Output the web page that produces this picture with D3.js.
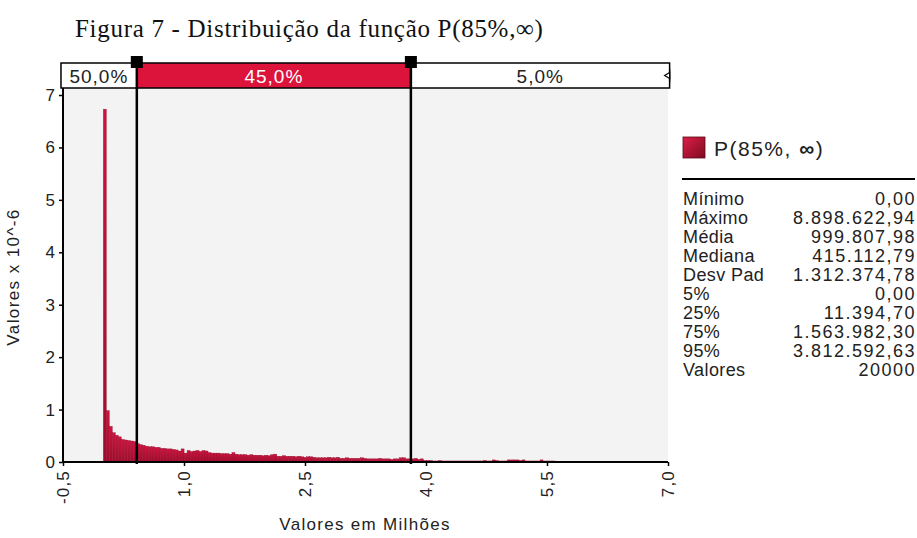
<!DOCTYPE html>
<html>
<head>
<meta charset="utf-8">
<script src="https://cdn.jsdelivr.net/npm/d3@7"></script>
<style>
  body { margin: 0; background: #fff; }
  text { font-family: "Liberation Sans", Arial, sans-serif; }
</style>
</head>
<body>
<div id="vis-svg"></div>
<script>
var width = 917;
var height = 538;

// histogram bin width (millions) and bar heights (values x 10^-6), bins from 0
var binWidth = 0.037078;
var binValues = [
  6.73, 0.98, 0.68, 0.56, 0.51, 0.48, 0.43, 0.42, 0.41, 0.40,
  0.39, 0.35, 0.33, 0.32, 0.30, 0.29, 0.29, 0.28, 0.28, 0.26,
  0.26, 0.25, 0.25, 0.24, 0.23, 0.21, 0.25, 0.17, 0.22, 0.20,
  0.21, 0.22, 0.20, 0.22, 0.21, 0.18, 0.17, 0.17, 0.17, 0.16,
  0.16, 0.16, 0.15, 0.18, 0.15, 0.14, 0.14, 0.14, 0.13, 0.14,
  0.13, 0.13, 0.13, 0.12, 0.13, 0.12, 0.14, 0.15, 0.11, 0.11,
  0.12, 0.11, 0.11, 0.11, 0.10, 0.11, 0.10, 0.09, 0.10, 0.10,
  0.09, 0.08, 0.08, 0.08, 0.08, 0.09, 0.08, 0.08, 0.09, 0.07,
  0.07, 0.08, 0.07, 0.07, 0.07, 0.07, 0.08, 0.07, 0.06, 0.06,
  0.06, 0.06, 0.07, 0.06, 0.06, 0.06, 0.05, 0.06, 0.06, 0.08,
  0.08, 0.06, 0.06, 0.06, 0.07, 0.05, 0.06, 0.03, 0.03, 0.03,
  0.02, 0.02, 0.03, 0.02, 0.02, 0.02, 0.02, 0.02, 0.02, 0.02,
  0.02, 0.02, 0.02, 0.02, 0.02, 0.02, 0.02, 0.03, 0.02, 0.02,
  0.04, 0.03, 0.02, 0.02, 0.02, 0.04, 0.04, 0.04, 0.04, 0.03,
  0.04, 0.02, 0.02, 0.02, 0.02, 0.02, 0.04, 0.02, 0.02, 0.02,
  0.02, 0.01, 0.01, 0.01, 0.01, 0.01, 0.01, 0.01, 0.01, 0.01,
  0.01, 0.01, 0.01, 0.01, 0.01, 0.01, 0.01, 0.01, 0.01, 0.01,
  0.01, 0.01, 0.01, 0.01, 0.01, 0.01, 0.01, 0.01, 0.01, 0.01,
  0.01, 0.01, 0.01, 0.01, 0.01, 0.01, 0.01, 0.01
];

var xTicks = [-0.5, 1.0, 2.5, 4.0, 5.5, 7.0];
var yTicks = [0, 1, 2, 3, 4, 5, 6, 7];

// delimiters (millions) and band percentages
var delimiters = [0.415113, 3.812593];
var bandLabels = ["50,0%", "45,0%", "5,0%"];

var legendName = "P(85%, ";
var statLabels = ["Mínimo", "Máximo", "Média", "Mediana", "Desv Pad", "5%", "25%", "75%", "95%", "Valores"];
var statValues = ["0,00", "8.898.622,94", "999.807,98", "415.112,79", "1.312.374,78", "0,00", "11.394,70", "1.563.982,30", "3.812.592,63", "20000"];

var svg = d3
  .select("#vis-svg")
  .append("svg")
  .attr("width", width)
  .attr("height", height);

var defs = svg.append("defs");
var grad = defs.append("linearGradient").attr("id", "barGrad")
  .attr("x1", 0).attr("y1", 0).attr("x2", 0).attr("y2", 1);
grad.append("stop").attr("offset", "0%").attr("stop-color", "#cc1440");
grad.append("stop").attr("offset", "100%").attr("stop-color", "#9e0d2c");

var legGrad = defs.append("linearGradient").attr("id", "legGrad")
  .attr("x1", 0).attr("y1", 0).attr("x2", 1).attr("y2", 1);
legGrad.append("stop").attr("offset", "0%").attr("stop-color", "#dc1f47");
legGrad.append("stop").attr("offset", "100%").attr("stop-color", "#7e0a22");

var x = d3.scaleLinear().domain([-0.5, 7]).range([63, 668]);
var y = d3.scaleLinear().domain([0, 7]).range([462, 95]);

var plotTop = 88;

// title
svg.append("text")
  .attr("x", 75)
  .attr("y", 37)
  .style("font-family", "'Liberation Serif', 'Times New Roman', serif")
  .style("font-size", "25px")
  .style("letter-spacing", "0.7px")
  .attr("fill", "#111")
  .text("Figura 7 - Distribuição da função P(85%,∞)");

// plot background
svg.append("rect")
  .attr("x", x(-0.5))
  .attr("y", plotTop)
  .attr("width", x(7) - x(-0.5))
  .attr("height", y(0) - plotTop)
  .attr("fill", "#f3f3f3");

// bars
var bars = binValues
  .map(function(v, i) { return { x0: i * binWidth, x1: (i + 1) * binWidth, v: v }; })
  .filter(function(d) { return d.x0 < 7; });

svg.append("g")
  .selectAll("rect")
  .data(bars)
  .enter()
  .append("rect")
  .attr("x", function(d) { return x(d.x0); })
  .attr("width", function(d) { return Math.min(x(d.x1), x(7)) - x(d.x0); })
  .attr("y", function(d) { return y(d.v); })
  .attr("height", function(d) { return y(0) - y(d.v); })
  .attr("fill", "url(#barGrad)")
  .attr("stroke", "#920b29")
  .attr("stroke-width", 0.35);

// axes
var yAxis = d3.axisLeft(y).tickValues(yTicks).tickSize(4).tickFormat(d3.format("d"));
var gy = svg.append("g").attr("transform", "translate(" + x(-0.5) + ",0)").call(yAxis);
gy.select(".domain").remove();
gy.selectAll(".tick line").attr("stroke", "#000").attr("stroke-width", 1.5);
gy.selectAll(".tick text")
  .attr("x", -8)
  .style("font-size", "17px")
  .attr("fill", "#222");
svg.append("line")
  .attr("x1", x(-0.5)).attr("x2", x(-0.5))
  .attr("y1", plotTop).attr("y2", y(0) + 1)
  .attr("stroke", "#000").attr("stroke-width", 2);

var xAxis = d3.axisBottom(x).tickValues(xTicks).tickSize(4)
  .tickFormat(function(d) { return d.toFixed(1).replace(".", ","); });
var gx = svg.append("g").attr("transform", "translate(0," + y(0) + ")").call(xAxis);
gx.select(".domain").remove();
gx.selectAll(".tick line").attr("stroke", "#000").attr("stroke-width", 1.5);
gx.selectAll(".tick text")
  .attr("transform", "rotate(-90)")
  .attr("x", -8)
  .attr("y", 0)
  .attr("dy", "0.35em")
  .attr("text-anchor", "end")
  .style("font-size", "17px")
  .style("letter-spacing", "1.2px")
  .attr("fill", "#222");
svg.append("line")
  .attr("x1", x(-0.5) - 1).attr("x2", x(7))
  .attr("y1", y(0)).attr("y2", y(0))
  .attr("stroke", "#000").attr("stroke-width", 2);

// axis titles
svg.append("text")
  .attr("transform", "translate(19," + 277 + ") rotate(-90)")
  .attr("text-anchor", "middle")
  .style("font-size", "17px")
  .style("letter-spacing", "1.4px")
  .attr("fill", "#222")
  .text("Valores x 10^-6");

svg.append("text")
  .attr("x", 365)
  .attr("y", 530)
  .attr("text-anchor", "middle")
  .style("font-size", "17px")
  .style("letter-spacing", "1.3px")
  .attr("fill", "#222")
  .text("Valores em Milhões");

// top band
var bandTop = 63, bandH = 25;
var bandEdges = [-0.5 - 0.025, delimiters[0], delimiters[1], 7.02];
bandLabels.forEach(function(lbl, i) {
  var x0 = x(bandEdges[i]), x1 = x(bandEdges[i + 1]);
  svg.append("rect")
    .attr("x", x0).attr("y", bandTop)
    .attr("width", x1 - x0).attr("height", bandH)
    .attr("fill", i === 1 ? "#dc143c" : "#fff")
    .attr("stroke", "#000").attr("stroke-width", 1.5);
  svg.append("text")
    .attr("x", (x0 + x1) / 2)
    .attr("y", bandTop + bandH / 2 + 7)
    .attr("text-anchor", "middle")
    .style("font-size", "19px")
    .style("letter-spacing", "1px")
    .attr("fill", i === 1 ? "#fff" : "#222")
    .text(lbl);
});

// right end marker
var mx = x(7.02);
svg.append("line")
  .attr("x1", mx).attr("x2", mx)
  .attr("y1", bandTop + 6).attr("y2", bandTop + 19)
  .attr("stroke", "#000").attr("stroke-width", 1.3);
svg.append("path")
  .attr("d", "M" + (mx - 5) + "," + (bandTop + 12.5) + "L" + mx + "," + (bandTop + 9.5) + "L" + mx + "," + (bandTop + 15.5) + "Z")
  .attr("fill", "#fff")
  .attr("stroke", "#000")
  .attr("stroke-width", 1.2);

// delimiter lines
delimiters.forEach(function(d) {
  svg.append("line")
    .attr("x1", x(d)).attr("x2", x(d))
    .attr("y1", bandTop - 4).attr("y2", y(0) + 2)
    .attr("stroke", "#000").attr("stroke-width", 2.5);
  svg.append("rect")
    .attr("x", x(d) - 6).attr("y", bandTop - 7)
    .attr("width", 12).attr("height", 12)
    .attr("fill", "#000");
});

// legend
svg.append("rect")
  .attr("x", 683).attr("y", 137)
  .attr("width", 22).attr("height", 21)
  .attr("fill", "url(#legGrad)")
  .attr("stroke", "#5a0818").attr("stroke-width", 0.8);
var lt = svg.append("text")
  .attr("x", 714).attr("y", 156)
  .style("font-size", "21px")
  .style("letter-spacing", "1.5px")
  .attr("fill", "#222")
  .text(legendName);
lt.append("tspan").style("font-weight", "bold").text("∞");
lt.append("tspan").text(")");

svg.append("line")
  .attr("x1", 682).attr("x2", 915)
  .attr("y1", 179).attr("y2", 179)
  .attr("stroke", "#000").attr("stroke-width", 2);

statLabels.forEach(function(lbl, i) {
  var yy = 204.5 + i * 19.1;
  svg.append("text")
    .attr("x", 683).attr("y", yy)
    .style("font-size", "18px")
    .style("letter-spacing", "0.4px")
    .attr("fill", "#222")
    .text(lbl);
  svg.append("text")
    .attr("x", 916).attr("y", yy)
    .attr("text-anchor", "end")
    .style("font-size", "18px")
    .style("letter-spacing", "1.5px")
    .attr("fill", "#222")
    .text(statValues[i]);
});
</script>
</body>
</html>
